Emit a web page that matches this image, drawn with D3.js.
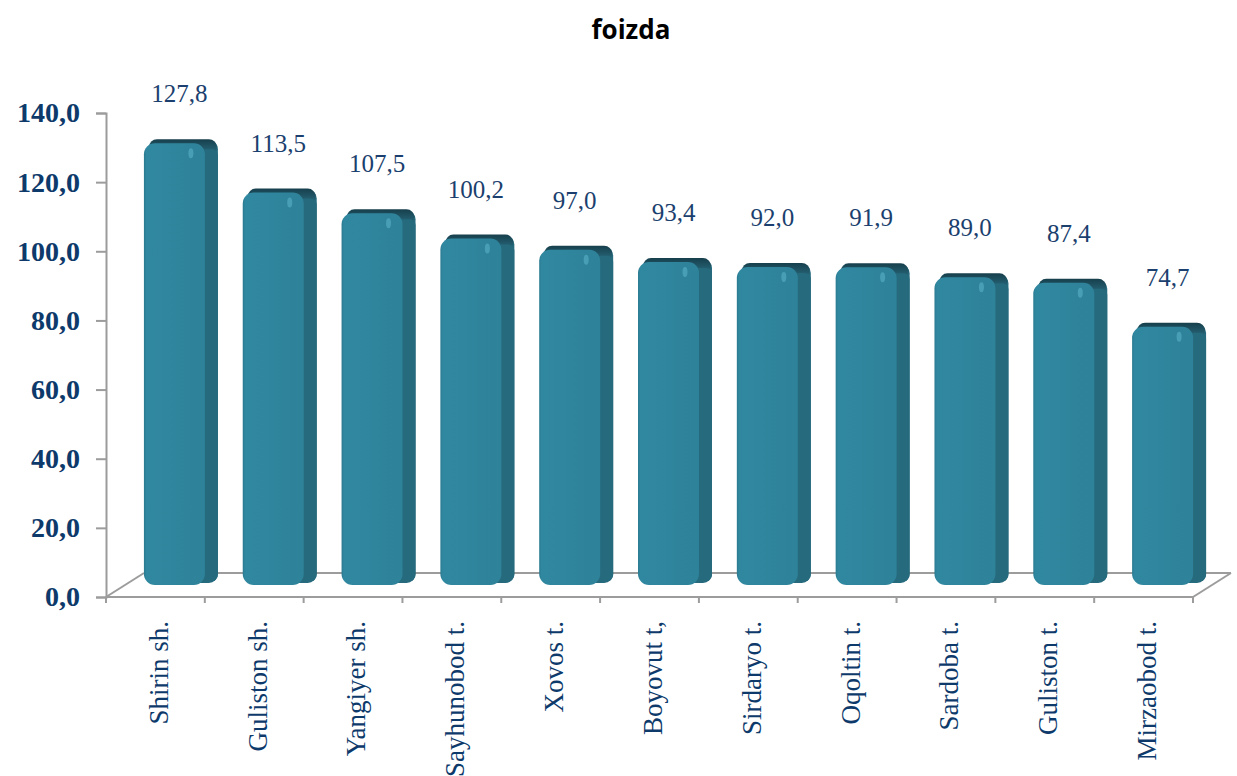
<!DOCTYPE html>
<html>
<head>
<meta charset="utf-8">
<script src="https://cdn.jsdelivr.net/npm/d3@7"></script>
<style>
  body { margin: 0; background: #fff; }
</style>
</head>
<body>
<div id="graph"></div>
<script>
// chart data
var categories = ["Shirin sh.", "Guliston sh.", "Yangiyer sh.", "Sayhunobod t.", "Xovos t.",
    "Boyovut t,", "Sirdaryo t.", "Oqoltin t.", "Sardoba t.", "Guliston t.", "Mirzaobod t."];
var values = [127.8, 113.5, 107.5, 100.2, 97.0, 93.4, 92.0, 91.9, 89.0, 87.4, 74.7];
var yTicks = [0, 20, 40, 60, 80, 100, 120, 140];
var title = "foizda";

window.onload = start;

function start() {
    var width = 1237;
    var height = 776;

    var svg = d3.select('#graph')
        .append('svg')
        .attr('width', width)
        .attr('height', height);

    var fmt = function(v) { return v.toFixed(1).replace('.', ','); };

    // 3d depth offset (back wall vs front)
    var depthX = 38, depthY = -24;

    var xOuter = d3.scaleBand().domain(categories).range([106, 1193]).padding(0);
    var xBar = d3.scaleBand().domain(categories).range([106, 1193])
        .paddingInner(0.383).paddingOuter(0.1915);
    var yScale = d3.scaleLinear().domain([0, 140]).range([597, 113]);

    var defs = svg.append('defs');
    var capGrad = defs.append('linearGradient').attr('id', 'cap')
        .attr('x1', 0).attr('y1', 0).attr('x2', 0).attr('y2', 1);
    capGrad.append('stop').attr('offset', '0%').attr('stop-color', '#173f4c');
    capGrad.append('stop').attr('offset', '100%').attr('stop-color', '#2a6f83');
    var frontGrad = defs.append('linearGradient').attr('id', 'front')
        .attr('x1', 0).attr('y1', 0).attr('x2', 1).attr('y2', 0);
    frontGrad.append('stop').attr('offset', '0%').attr('stop-color', '#2a7a90');
    frontGrad.append('stop').attr('offset', '4%').attr('stop-color', '#3088a0');
    frontGrad.append('stop').attr('offset', '100%').attr('stop-color', '#2e8299');

    // title
    svg.append('text')
        .attr('x', 631)
        .attr('y', 39)
        .attr('text-anchor', 'middle')
        .style('font-family', '"Open Sans", sans-serif')
        .style('font-weight', 'bold')
        .style('font-size', '26px')
        .style('fill', '#000')
        .text(title);

    var axisColor = '#9c9c9c';

    // floor
    var floor = svg.append('g').attr('stroke', axisColor).attr('stroke-width', 2).attr('fill', 'none');
    floor.append('line')
        .attr('x1', 106 + depthX).attr('y1', yScale(0) + depthY)
        .attr('x2', 1193 + depthX).attr('y2', yScale(0) + depthY);
    floor.append('line')
        .attr('x1', 106).attr('y1', yScale(0))
        .attr('x2', 106 + depthX).attr('y2', yScale(0) + depthY);
    floor.append('line')
        .attr('x1', 1193).attr('y1', yScale(0))
        .attr('x2', 1193 + depthX).attr('y2', yScale(0) + depthY);

    // y axis
    var yAxis = d3.axisLeft(yScale).tickValues(yTicks).tickSize(10).tickPadding(16).tickFormat(fmt);
    var yg = svg.append('g')
        .attr('transform', 'translate(106,0)')
        .call(yAxis);
    yg.select('.domain').attr('stroke', axisColor).attr('stroke-width', 2);
    yg.selectAll('.tick line').attr('stroke', axisColor).attr('stroke-width', 2);
    yg.selectAll('.tick text')
        .style('font-family', '"Liberation Serif", "Times New Roman", serif')
        .style('font-weight', 'bold')
        .style('font-size', '28px')
        .style('fill', '#0d3a6b');

    // x axis line + ticks
    var xg = svg.append('g');
    xg.append('line')
        .attr('x1', 106).attr('x2', 1193)
        .attr('y1', yScale(0)).attr('y2', yScale(0))
        .attr('stroke', axisColor).attr('stroke-width', 2);
    var tickPos = categories.map(function(c) { return xOuter(c); }).concat([1193]);
    xg.selectAll('.xtick')
        .data(tickPos)
        .enter()
        .append('line')
        .attr('class', 'xtick')
        .attr('x1', function(d) { return d; })
        .attr('x2', function(d) { return d; })
        .attr('y1', yScale(0))
        .attr('y2', yScale(0) + 6)
        .attr('stroke', axisColor).attr('stroke-width', 2);

    xg.selectAll('.xlabel')
        .data(categories)
        .enter()
        .append('text')
        .attr('class', 'xlabel')
        .attr('transform', function(d) {
            return 'translate(' + (xOuter(d) + xOuter.bandwidth() / 2 + 3) + ',621) rotate(-90)';
        })
        .attr('dy', '0.35em')
        .attr('text-anchor', 'end')
        .style('font-family', '"Liberation Serif", "Times New Roman", serif')
        .style('font-size', '27px')
        .style('fill', '#0d3a6b')
        .text(function(d) { return d; });

    // bars
    var w = xBar.bandwidth();
    var base = yScale(0) + depthY / 2;
    var bars = svg.append('g').selectAll('.bar')
        .data(values)
        .enter()
        .append('g')
        .attr('class', 'bar')
        .attr('transform', function(d, i) {
            return 'translate(' + (xBar(categories[i]) + depthX / 2) + ',0)';
        });

    function top(d) { return yScale(d) + depthY / 2; }

    // side face
    bars.append('rect')
        .attr('x', w - 20)
        .attr('y', function(d) { return top(d) - 3; })
        .attr('width', 33)
        .attr('height', function(d) { return base - 2 - (top(d) - 3); })
        .attr('rx', 9)
        .attr('fill', '#266a7d');
    // top cap
    bars.append('rect')
        .attr('x', 5)
        .attr('y', function(d) { return top(d) - 4; })
        .attr('width', w + 7)
        .attr('height', 16)
        .attr('rx', 8)
        .attr('fill', 'url(#cap)');
    // side face over cap lower part
    bars.append('rect')
        .attr('x', w - 6)
        .attr('y', function(d) { return top(d) + 6; })
        .attr('width', 19)
        .attr('height', function(d) { return base - 10 - top(d); })
        .attr('rx', 6)
        .attr('fill', '#266a7d');
    // front face
    bars.append('rect')
        .attr('x', 0)
        .attr('y', function(d) { return top(d); })
        .attr('width', w)
        .attr('height', function(d) { return base - top(d); })
        .attr('rx', 11)
        .attr('fill', 'url(#front)');
    // highlight
    bars.append('ellipse')
        .attr('cx', w - 14)
        .attr('cy', function(d) { return top(d) + 10; })
        .attr('rx', 2.5)
        .attr('ry', 5)
        .attr('fill', '#4fa5bb')
        .attr('opacity', 0.8);

    // value labels
    svg.append('g').selectAll('.val')
        .data(values)
        .enter()
        .append('text')
        .attr('class', 'val')
        .attr('x', function(d, i) { return xOuter(categories[i]) + xOuter.bandwidth() / 2 + 24; })
        .attr('y', function(d) { return top(d) - 41; })
        .attr('text-anchor', 'middle')
        .style('font-family', '"Liberation Serif", "Times New Roman", serif')
        .style('font-size', '25px')
        .style('fill', '#1b3f6e')
        .text(function(d) { return fmt(d); });
}
</script>
</body>
</html>
